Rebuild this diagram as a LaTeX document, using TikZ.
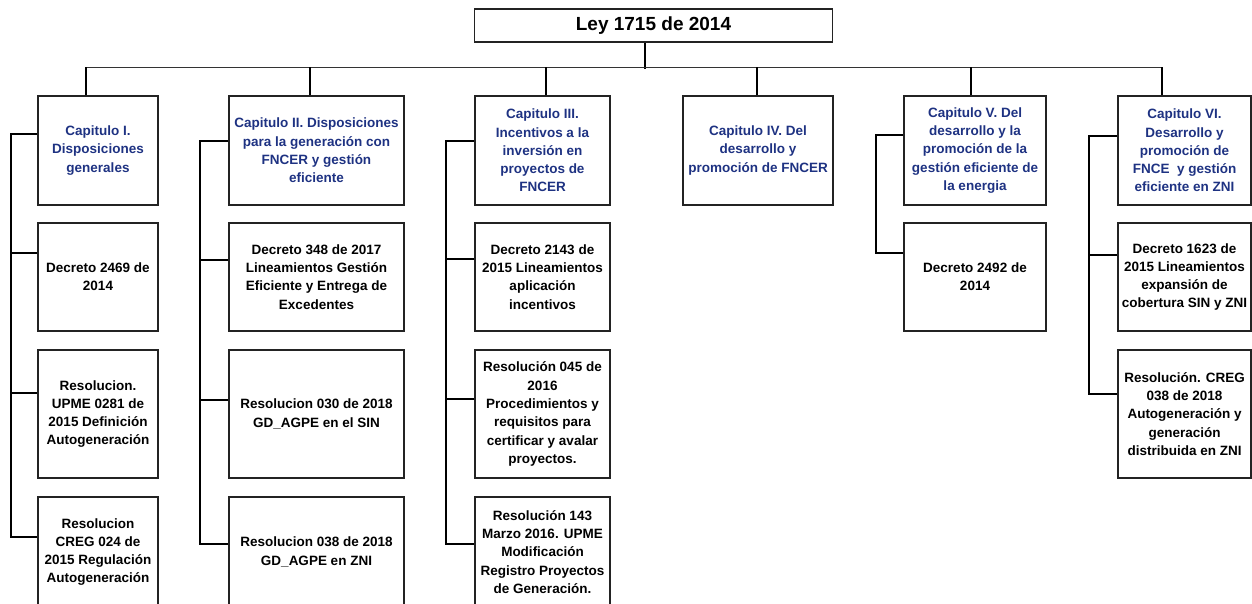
\documentclass[tikz,border=0pt]{standalone}
\usepackage{fontspec}
\setmainfont{Liberation Sans}
\definecolor{navy}{RGB}{30,50,130}
\definecolor{boxline}{RGB}{35,35,35}
\begin{document}
\begin{tikzpicture}[x=1pt,y=-1pt,
  box/.style={draw=boxline, line width=1.2pt, rectangle, inner sep=0pt, align=center,
    font=\fontsize{13.5}{18.3}\selectfont\bfseries, text=black},
  chap/.style={box, text=navy, minimum height=109pt},
  rowA/.style={box, minimum height=108pt},
  rowB/.style={box, minimum height=128pt},
  rowC/.style={box, minimum height=110pt},
  wI/.style={minimum width=120pt},
  wII/.style={minimum width=175pt},
  wIII/.style={minimum width=135pt},
  wIV/.style={minimum width=150pt},
  wV/.style={minimum width=142pt},
  wVI/.style={minimum width=133pt},
  conn/.style={line width=2pt, black},
  bar/.style={line width=1.4pt, black!80}
]
\useasboundingbox (0,0) rectangle (1252,603);
\clip (0,0) rectangle (1252,603);

% title
\node[box, minimum width=358pt, minimum height=33pt, font=\fontsize{19}{22}\selectfont\bfseries] (t) at (653.5,25.5) {Ley 1715 de 2014};

% chapters
\node[chap,wI]   (c1) at (98,150.5)    {Capitulo I.\\Disposiciones\\generales};
\node[chap,wII]  (c2) at (316.5,150.5) {Capitulo II. Disposiciones\\para la generación con\\FNCER y gestión\\eficiente};
\node[chap,wIII] (c3) at (542.5,150.5) {Capitulo III.\\Incentivos a la\\inversión en\\proyectos de\\FNCER};
\node[chap,wIV]  (c4) at (758,150.5)   {Capitulo IV. Del\\desarrollo y\\promoción de FNCER};
\node[chap,wV]   (c5) at (975,150.5)   {Capitulo V. Del\\desarrollo y la\\promoción de la\\gestión eficiente de\\la energia};
\node[chap,wVI]  (c6) at (1184.5,150.5) {Capitulo VI.\\Desarrollo y\\promoción de\\FNCE\ \ y gestión\\eficiente en ZNI};

% column I
\node[rowA,wI] (r12) at (98,277) {Decreto 2469 de\\2014};
\node[rowB,wI] (r13) at (98,414) {Resolucion.\\UPME 0281 de\\2015 Definición\\Autogeneración};
\node[rowC,wI] (r14) at (98,552) {Resolucion\\CREG 024 de\\2015 Regulación\\Autogeneración};

% column II
\node[rowA,wII] (r22) at (316.5,277) {Decreto 348 de 2017\\Lineamientos Gestión\\Eficiente y Entrega de\\Excedentes};
\node[rowB,wII] (r23) at (316.5,414) {Resolucion 030 de 2018\\GD\_AGPE en el SIN};
\node[rowC,wII] (r24) at (316.5,552) {Resolucion 038 de 2018\\GD\_AGPE en ZNI};

% column III
\node[rowA,wIII] (r32) at (542.5,277) {Decreto 2143 de\\2015 Lineamientos\\aplicación\\incentivos};
\node[rowB,wIII] (r33) at (542.5,414) {Resolución 045 de\\2016\\Procedimientos y\\requisitos para\\certificar y avalar\\proyectos.};
\node[rowC,wIII] (r34) at (542.5,552) {Resolución 143\\Marzo 2016. UPME\\Modificación\\Registro Proyectos\\de Generación.};

% column V
\node[rowA,wV] (r52) at (975,277) {Decreto 2492 de\\2014};

% column VI
\node[rowA,wVI] (r62) at (1184.5,277) {Decreto 1623 de\\2015 Lineamientos\\expansión de\\cobertura SIN y ZNI};
\node[rowB,wVI] (r63) at (1184.5,414) {Resolución. CREG\\038 de 2018\\Autogeneración y\\generación\\distribuida en ZNI};

% top tree
\draw[conn] ([xshift=-8.5pt]t.south) -- ++(0,26);
\draw[bar] ([xshift=-12pt,yshift=28pt]c1.north) -- ([xshift=-22.5pt,yshift=28pt]c6.north);
\draw[conn] ([xshift=-12pt]c1.north) -- ++(0,-28);
\draw[conn] ([xshift=-6.5pt]c2.north) -- ++(0,-28);
\draw[conn] ([xshift=3.5pt]c3.north) -- ++(0,-28);
\draw[conn] ([xshift=-1pt]c4.north) -- ++(0,-28);
\draw[conn] ([xshift=-4pt]c5.north) -- ++(0,-28);
\draw[conn] ([xshift=-22.5pt]c6.north) -- ++(0,-28);

% column I spine
\draw[conn] ([yshift=16.5pt]c1.west) -- ++(-26,0) |- ([yshift=15pt]r14.west);
\draw[conn] ([yshift=24pt]r12.west) -- ++(-26,0);
\draw[conn] ([yshift=21pt]r13.west) -- ++(-26,0);

% column II spine
\draw[conn] ([yshift=9.5pt]c2.west) -- ++(-28,0) |- ([yshift=8pt]r24.west);
\draw[conn] ([yshift=17pt]r22.west) -- ++(-28,0);
\draw[conn] ([yshift=14pt]r23.west) -- ++(-28,0);

% column III spine
\draw[conn] ([yshift=9.5pt]c3.west) -- ++(-28,0) |- ([yshift=8pt]r34.west);
\draw[conn] ([yshift=18pt]r32.west) -- ++(-28,0);
\draw[conn] ([yshift=15pt]r33.west) -- ++(-28,0);

% column V spine
\draw[conn] ([yshift=15.5pt]c5.west) -- ++(-27,0) |- ([yshift=24pt]r52.west);

% column VI spine
\draw[conn] ([yshift=14.5pt]c6.west) -- ++(-28,0) |- ([yshift=20pt]r63.west);
\draw[conn] ([yshift=22pt]r62.west) -- ++(-28,0);
\end{tikzpicture}
\end{document}
